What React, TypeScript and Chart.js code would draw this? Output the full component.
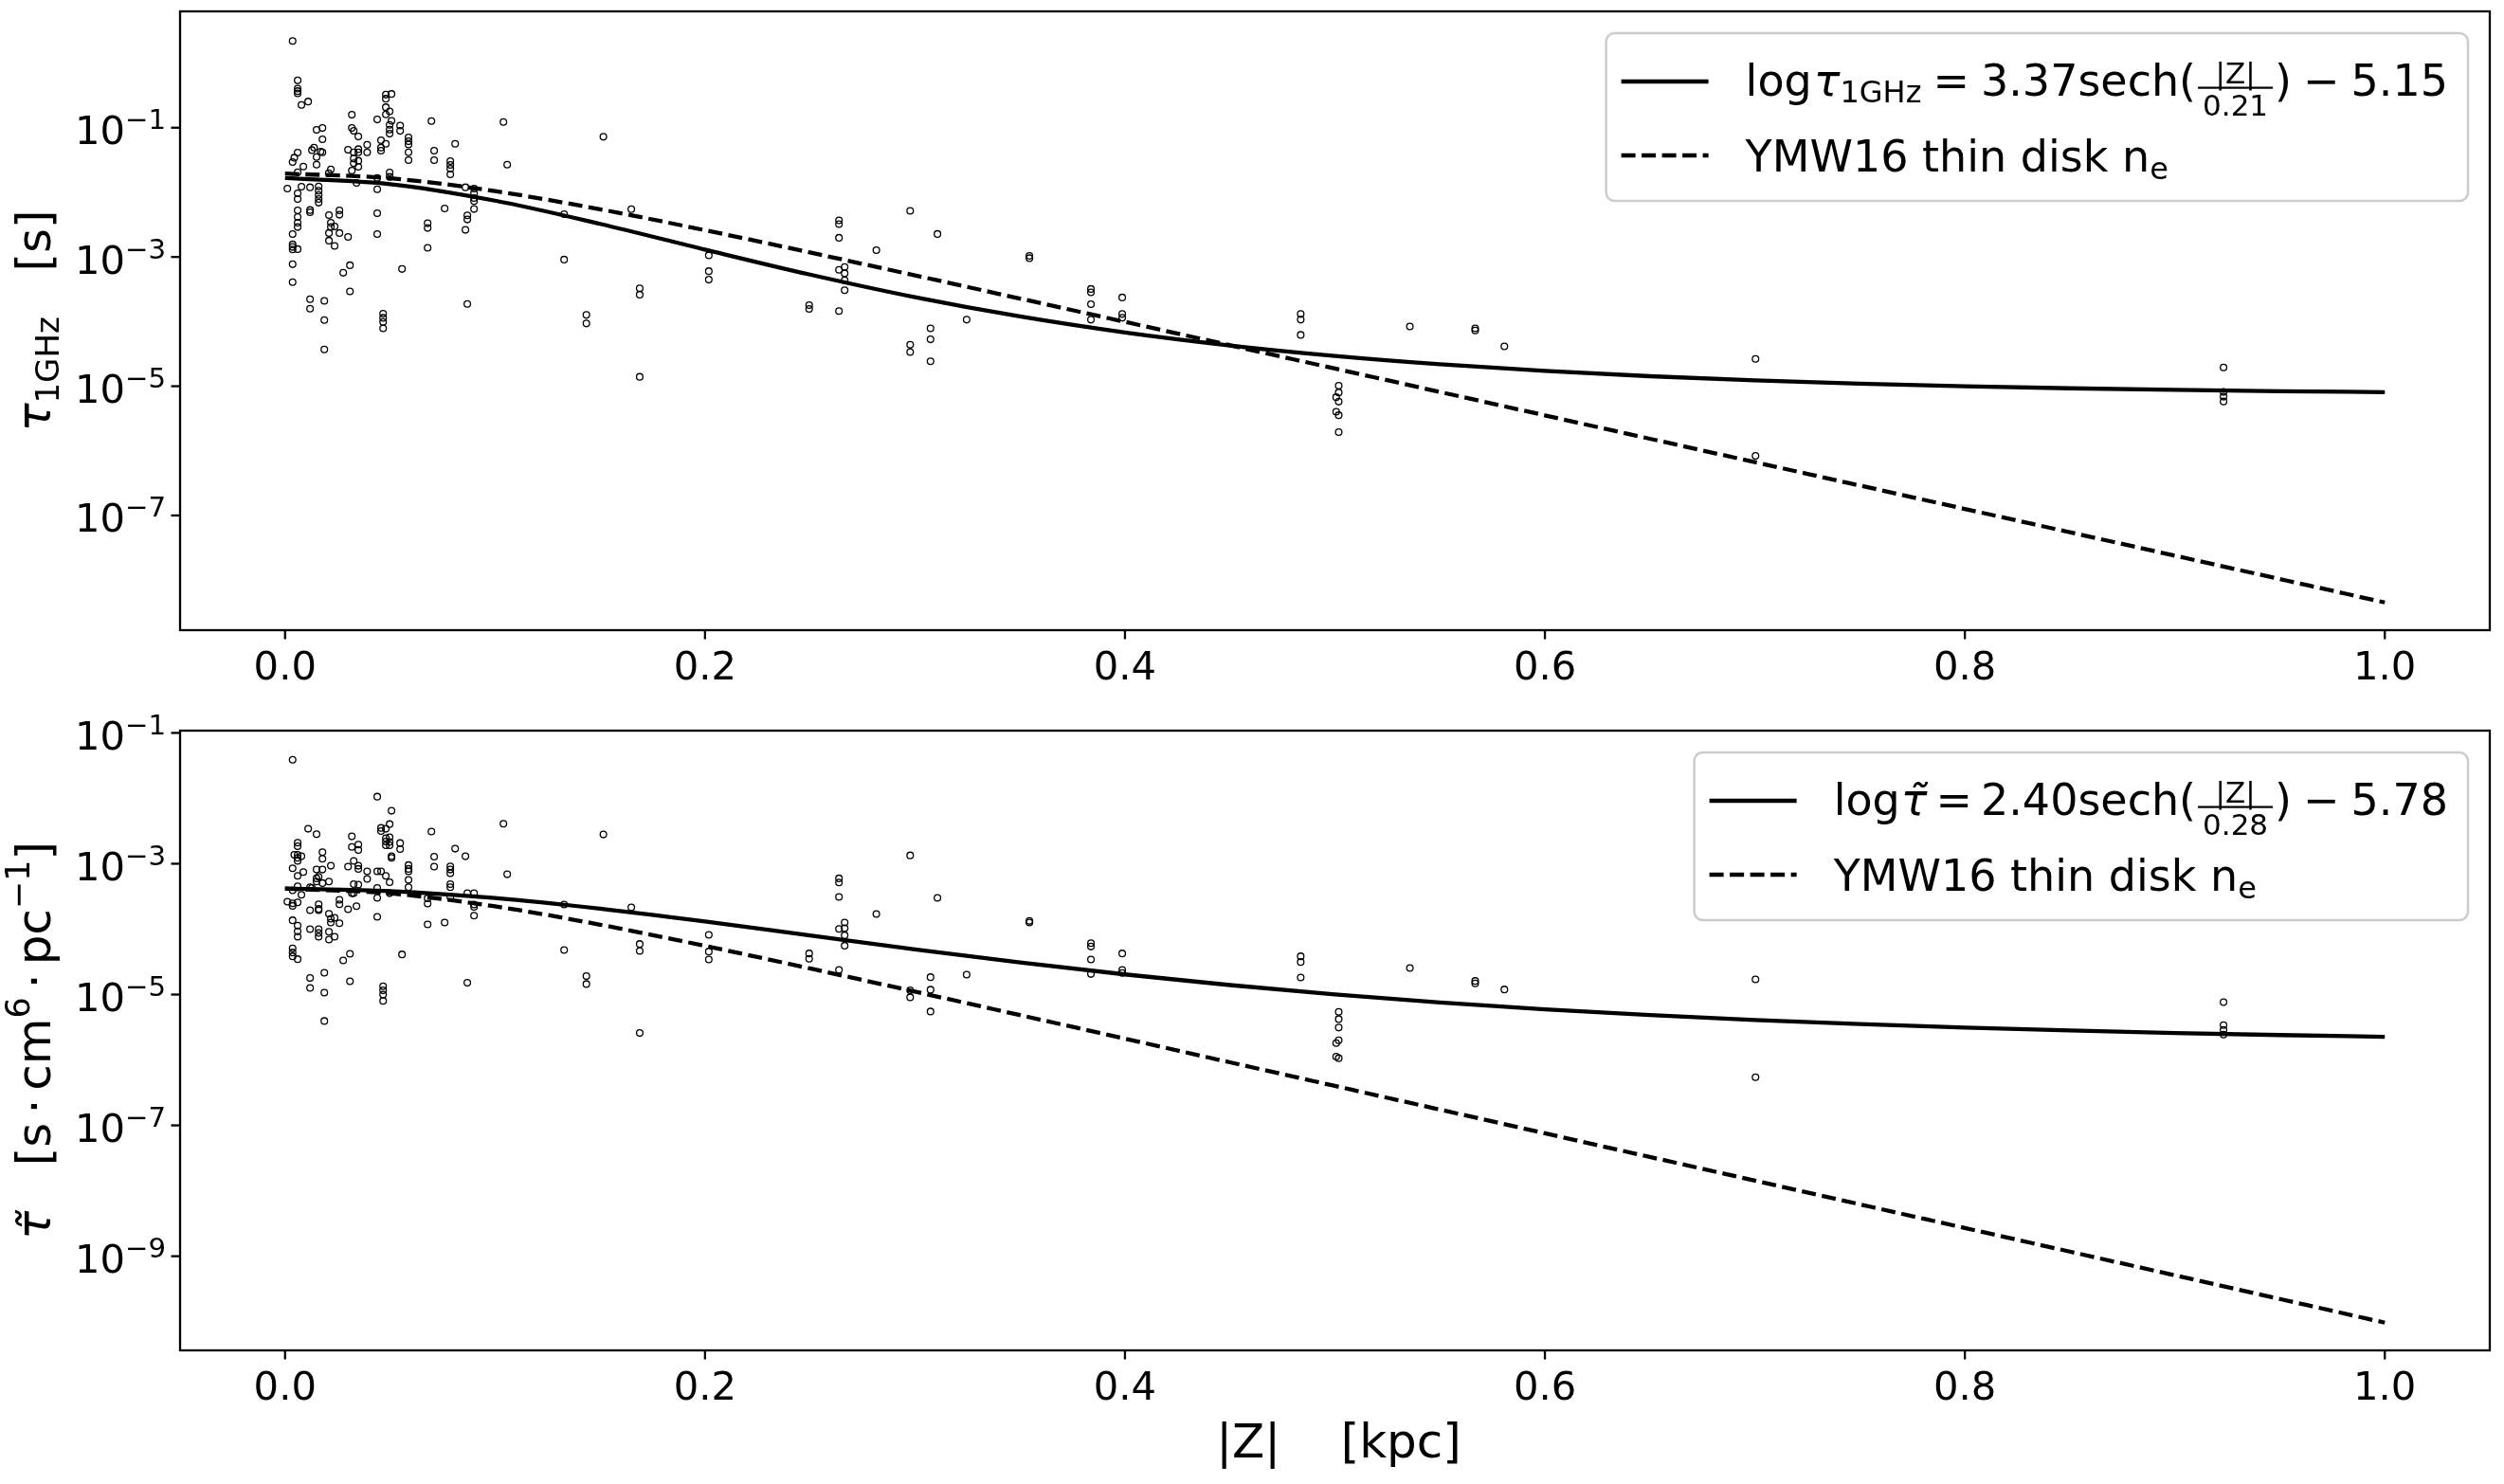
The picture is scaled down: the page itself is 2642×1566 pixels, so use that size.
import React, { useEffect, useRef } from "react";
import { Chart, registerables } from "chart.js";

Chart.register(...registerables);

const FONT = '"DejaVu Sans", "Noto Sans", sans-serif';

// ---------------- data ----------------
// |Z| [kpc] of the pulsars, upper panel, and log10 of tau_1GHz [s]
const zTop = [
  0.0036, 0.006, 0.006, 0.006, 0.006, 0.0078, 0.011, 0.015, 0.0178, 0.0178,
  0.006, 0.0044, 0.0036, 0.0087, 0.006, 0.0128, 0.0138, 0.015, 0.015, 0.0169,
  0.0178, 0.0218, 0.0208, 0.0011, 0.0078, 0.0119, 0.006, 0.006, 0.016, 0.016,
  0.016, 0.016, 0.016, 0.0119, 0.0119, 0.006, 0.006, 0.006, 0.006, 0.0036,
  0.0036, 0.0036, 0.0036, 0.006, 0.0036, 0.0036, 0.0119, 0.0119, 0.0187, 0.0187,
  0.0187, 0.0209, 0.0218, 0.0218, 0.0236, 0.0209, 0.0209, 0.0236, 0.0259, 0.0259,
  0.0259, 0.03, 0.0277, 0.0309, 0.0309, 0.0318, 0.0318, 0.0327, 0.0349, 0.03,
  0.0327, 0.0349, 0.0349, 0.0327, 0.0327, 0.0349, 0.0349, 0.0318, 0.034, 0.0391,
  0.0391, 0.0439, 0.048, 0.048, 0.0507, 0.048, 0.0498, 0.048, 0.0507, 0.0498,
  0.0498, 0.0498, 0.0548, 0.0548, 0.0457, 0.048, 0.0457, 0.0457, 0.0498, 0.0498,
  0.0439, 0.0439, 0.0439, 0.0439, 0.0467, 0.0467, 0.0467, 0.0467, 0.0557, 0.0588,
  0.0588, 0.0588, 0.0588, 0.0588, 0.0697, 0.071, 0.071, 0.0679, 0.0679, 0.0679,
  0.076, 0.0787, 0.0787, 0.0787, 0.0787, 0.081, 0.0859, 0.09, 0.09, 0.09,
  0.09, 0.09, 0.0868, 0.0868, 0.0859, 0.0868, 0.104, 0.1058, 0.1329, 0.1329,
  0.1516, 0.1649, 0.1435, 0.1435, 0.1689, 0.1689, 0.1689, 0.2018, 0.2018, 0.2018,
  0.2496, 0.2496, 0.2638, 0.2638, 0.2638, 0.2638, 0.2665, 0.2665, 0.2665, 0.2665,
  0.2638, 0.2816, 0.2977, 0.3107, 0.3074, 0.3074, 0.3074, 0.2977, 0.2977, 0.3246,
  0.3545, 0.3545, 0.3838, 0.3838, 0.3838, 0.3838, 0.3987, 0.3987, 0.3987, 0.4837,
  0.4837, 0.4837, 0.5018, 0.5018, 0.5018, 0.5018, 0.5018, 0.5006, 0.5006, 0.5357,
  0.5668, 0.5668, 0.5807, 0.7003, 0.7003, 0.9232, 0.9232, 0.9232, 0.9232,
];
const logTauTop = [
  0.342, -0.268, -0.395, -0.434, -0.468, -0.649, -0.595, -1.034, -1.005, -1.18,
  -1.386, -1.464, -1.532, -1.6, -1.688, -1.347, -1.307, -1.454, -1.571, -1.371,
  -1.381, -1.644, -1.703, -1.942, -1.913, -1.922, -2.015, -2.103, -1.908, -1.976,
  -2.04, -2.103, -2.16, -2.274, -2.308, -2.279, -2.381, -2.469, -2.537, -2.645,
  -2.806, -2.845, -2.884, -2.879, -3.113, -3.391, -3.655, -3.801, -3.679, -3.977,
  -4.431, -2.352, -2.469, -2.537, -2.528, -2.63, -2.747, -2.83, -2.279, -2.347,
  -2.63, -2.689, -3.245, -3.128, -3.533, -0.8, -1.005, -1.049, -1.137, -1.342,
  -1.381, -1.332, -1.381, -1.478, -1.551, -1.512, -1.605, -1.664, -1.854, -1.264,
  -1.381, -0.873, -0.488, -0.551, -0.478, -0.683, -0.746, -0.795, -0.893, -0.956,
  -1.029, -1.093, -0.966, -1.049, -1.195, -1.249, -1.307, -1.356, -1.693, -1.761,
  -1.776, -1.952, -2.323, -2.645, -3.879, -3.942, -4.006, -4.104, -3.186, -1.151,
  -1.21, -1.259, -1.381, -1.503, -0.898, -1.356, -1.503, -2.479, -2.552, -2.859,
  -2.249, -1.517, -1.576, -1.634, -1.722, -1.249, -1.922, -1.942, -2.015, -2.088,
  -2.137, -2.259, -2.357, -2.42, -2.581, -3.728, -0.912, -1.571, -2.337, -3.04,
  -1.141, -2.261, -3.897, -4.029, -3.485, -3.583, -4.855, -2.974, -3.22, -3.351,
  -3.745, -3.804, -2.433, -2.492, -2.703, -3.199, -3.155, -3.253, -3.362, -3.514,
  -3.838, -2.895, -2.286, -2.644, -4.104, -4.275, -4.615, -4.359, -4.472, -3.971,
  -2.984, -3.018, -3.495, -3.548, -3.731, -3.971, -3.627, -3.883, -3.941, -3.883,
  -3.971, -4.206, -4.993, -5.097, -5.239, -5.449, -5.71, -5.17, -5.395, -4.075,
  -4.104, -4.138, -4.384, -4.577, -6.076, -4.709, -5.089, -5.162, -5.236,
];

// lower panel: |Z| [kpc] and log10 of tau-tilde [s cm^6 pc^-1]
const zBottom = [
  0.0036, 0.011, 0.015, 0.006, 0.006, 0.0044, 0.006, 0.0078, 0.006, 0.006,
  0.0036, 0.006, 0.0087, 0.015, 0.0178, 0.0178, 0.0178, 0.0218, 0.015, 0.016,
  0.015, 0.0178, 0.0209, 0.0119, 0.0128, 0.006, 0.0036, 0.0078, 0.0011, 0.0036,
  0.0036, 0.006, 0.0119, 0.016, 0.016, 0.016, 0.0209, 0.0218, 0.0218, 0.0236,
  0.0259, 0.0036, 0.006, 0.006, 0.006, 0.0119, 0.016, 0.016, 0.016, 0.0209,
  0.0209, 0.0236, 0.0036, 0.0036, 0.0036, 0.006, 0.0119, 0.0119, 0.0187, 0.0187,
  0.0187, 0.0277, 0.0309, 0.0309, 0.0259, 0.0259, 0.03, 0.034, 0.0318, 0.0318,
  0.0349, 0.0349, 0.0327, 0.03, 0.0349, 0.0349, 0.0391, 0.0391, 0.0327, 0.0349,
  0.0318, 0.0327, 0.0439, 0.0507, 0.0457, 0.0457, 0.048, 0.0498, 0.048, 0.048,
  0.048, 0.0498, 0.0498, 0.0498, 0.0548, 0.0548, 0.0507, 0.0507, 0.0439, 0.0457,
  0.048, 0.0498, 0.0439, 0.0439, 0.0439, 0.0498, 0.0467, 0.0467, 0.0467, 0.0467,
  0.0557, 0.0588, 0.0588, 0.0588, 0.0588, 0.0588, 0.0697, 0.071, 0.071, 0.0679,
  0.0679, 0.0679, 0.076, 0.0787, 0.0787, 0.0787, 0.0787, 0.0787, 0.0787, 0.081,
  0.0859, 0.0868, 0.09, 0.09, 0.09, 0.09, 0.0868, 0.104, 0.1058, 0.1329,
  0.1329, 0.1516, 0.1649, 0.1435, 0.1435, 0.1689, 0.1689, 0.1689, 0.2018, 0.2018,
  0.2018, 0.2496, 0.2496, 0.2638, 0.2638, 0.2638, 0.2638, 0.2665, 0.2665, 0.2665,
  0.2665, 0.2638, 0.2816, 0.2977, 0.3107, 0.3074, 0.3074, 0.3074, 0.2977, 0.2977,
  0.3246, 0.3545, 0.3545, 0.3838, 0.3838, 0.3838, 0.3838, 0.3987, 0.3987, 0.3987,
  0.4837, 0.4837, 0.4837, 0.5018, 0.5018, 0.5018, 0.5018, 0.5018, 0.5006, 0.5006,
  0.5357, 0.5668, 0.5668, 0.5807, 0.7003, 0.7003, 0.9232, 0.9232, 0.9232, 0.9232,
];
const logTauBottom = [
  -1.41, -2.466, -2.548, -2.679, -2.732, -2.864, -2.864, -2.886, -2.91, -2.958,
  -3.069, -3.185, -3.127, -3.089, -2.822, -2.924, -3.089, -3.031, -3.224, -3.2,
  -3.272, -3.296, -3.272, -3.359, -3.369, -3.345, -3.407, -3.475, -3.581, -3.605,
  -3.644, -3.59, -3.711, -3.619, -3.691, -3.711, -3.764, -3.841, -3.899, -3.827,
  -3.909, -3.865, -3.947, -4.034, -4.116, -4.0, -4.0, -4.058, -4.116, -4.039,
  -4.16, -4.116, -4.295, -4.357, -4.415, -4.459, -4.748, -4.898, -4.666, -4.97,
  -5.404, -4.478, -4.377, -4.797, -3.552, -3.619, -3.697, -3.648, -2.582, -2.743,
  -2.707, -2.789, -2.958, -3.045, -3.031, -3.079, -3.117, -3.233, -3.311, -3.321,
  -3.451, -3.451, -1.974, -2.191, -2.452, -2.5, -2.466, -2.394, -2.611, -2.659,
  -2.717, -2.596, -2.668, -2.717, -2.684, -2.775, -2.886, -2.91, -3.117, -3.117,
  -3.185, -3.282, -3.369, -3.523, -3.812, -3.451, -4.874, -4.936, -4.999, -5.096,
  -4.386, -3.021, -3.079, -3.117, -3.248, -3.359, -2.509, -2.891, -3.045, -3.528,
  -3.61, -3.928, -3.899, -3.04, -3.089, -3.146, -3.311, -3.359, -3.513, -2.77,
  -2.886, -3.451, -3.451, -3.624, -3.658, -3.793, -4.82, -2.389, -3.161, -3.624,
  -4.318, -2.553, -3.667, -4.719, -4.839, -4.227, -4.333, -5.588, -4.087, -4.343,
  -4.464, -4.372, -4.454, -3.224, -3.287, -3.508, -3.996, -3.899, -3.986, -4.093,
  -4.252, -4.623, -3.769, -2.872, -3.523, -4.734, -4.926, -5.259, -4.936, -5.042,
  -4.695, -3.875, -3.899, -4.213, -4.266, -4.464, -4.686, -4.372, -4.623, -4.671,
  -4.415, -4.502, -4.738, -5.264, -5.375, -5.505, -5.699, -5.973, -5.742, -5.949,
  -4.594, -4.792, -4.83, -4.922, -4.767, -6.263, -5.115, -5.467, -5.54, -5.612,
];

// curves, every 0.05 kpc (log10 values)
const zCurve = [
  0, 0.05, 0.1, 0.15, 0.2, 0.25, 0.3, 0.35, 0.4, 0.45, 0.5,
  0.55, 0.6, 0.65, 0.7, 0.75, 0.8, 0.85, 0.9, 0.95, 1.0,
];
const logFitTop = [
  -1.78, -1.873, -2.129, -2.488, -2.886, -3.273, -3.623, -3.921, -4.169, -4.37, -4.532,
  -4.661, -4.764, -4.845, -4.91, -4.961, -5.001, -5.032, -5.057, -5.077, -5.092,
];
const logYmwTop = [
  -1.71, -1.783, -1.982, -2.262, -2.586, -2.931, -3.285, -3.644, -4.004, -4.366, -4.727,
  -5.089, -5.451, -5.813, -6.175, -6.537, -6.899, -7.26, -7.622, -7.984, -8.346,
];
const logFitBottom = [
  -3.38, -3.418, -3.525, -3.688, -3.884, -4.097, -4.309, -4.509, -4.692, -4.855, -4.997,
  -5.12, -5.225, -5.313, -5.389, -5.452, -5.505, -5.55, -5.587, -5.619, -5.645,
];
const logYmwBottom = [
  -3.38, -3.453, -3.652, -3.932, -4.256, -4.601, -4.955, -5.314, -5.674, -6.036, -6.397,
  -6.759, -7.121, -7.483, -7.845, -8.207, -8.569, -8.93, -9.292, -9.654, -10.016,
];

const xTickValues = [0, 0.2, 0.4, 0.6, 0.8, 1.0];
const xTickLabels = ["0.0", "0.2", "0.4", "0.6", "0.8", "1.0"];
const yTickExpTop = [-1, -3, -5, -7];
const yTickExpBottom = [-1, -3, -5, -7, -9];
const xLimits = [-0.05, 1.05];
const yLogLimitsTop = [-8.775, 0.8];
const yLogLimitsBottom = [-10.44, -0.965];

// ---------------- text helpers ----------------
type Run = {
  t?: string;
  size: number;
  italic?: boolean;
  dy?: number;
  gap?: number;
  frac?: [string, string];
  tilde?: boolean;
};

const fnt = (size: number, italic?: boolean) =>
  `${italic ? "italic " : ""}${size}px ${FONT}`;

function runWidth(ctx: CanvasRenderingContext2D, r: Run) {
  if (r.frac) {
    ctx.font = fnt(r.size);
    const a = ctx.measureText(r.frac[0]).width;
    const b = ctx.measureText(r.frac[1]).width;
    return Math.max(a, b) + 14;
  }
  ctx.font = fnt(r.size, r.italic);
  return ctx.measureText(r.t || "").width;
}

function measureRuns(ctx: CanvasRenderingContext2D, runs: Run[]) {
  return runs.reduce((s, r) => s + (r.gap || 0) + runWidth(ctx, r), 0);
}

function drawRuns(ctx: CanvasRenderingContext2D, runs: Run[], x: number, y: number) {
  let cx = x;
  ctx.textAlign = "left";
  ctx.textBaseline = "alphabetic";
  for (const r of runs) {
    cx += r.gap || 0;
    const w = runWidth(ctx, r);
    if (r.frac) {
      ctx.font = fnt(r.size);
      const barY = y - 8;
      ctx.fillRect(cx + 2, barY - 1, w - 4, 2.2);
      ctx.textAlign = "center";
      ctx.fillText(r.frac[0], cx + w / 2, barY - 5);
      ctx.fillText(r.frac[1], cx + w / 2, barY + 29);
      ctx.textAlign = "left";
    } else {
      ctx.font = fnt(r.size, r.italic);
      ctx.fillText(r.t || "", cx, y + (r.dy || 0));
      if (r.tilde) {
        ctx.textAlign = "center";
        ctx.fillText("\u02DC", cx + w / 2 + r.size * 0.06, y + r.size * 0.04);
        ctx.textAlign = "left";
      }
    }
    cx += w;
  }
  return cx - x;
}

type Decor = {
  yTickExps: number[];
  yLabel: Run[];
  legendRows: Run[][];
  xLabel?: string;
};

function makeDecor(d: Decor) {
  return {
    id: "mplDecor",
    afterDraw(chart: any) {
      const ctx: CanvasRenderingContext2D = chart.ctx;
      const a = chart.chartArea;
      const xs = chart.scales.x;
      const ys = chart.scales.y;
      ctx.save();
      ctx.fillStyle = "#000";
      ctx.strokeStyle = "#000";

      // frame
      ctx.lineWidth = 2.3;
      ctx.lineJoin = "miter";
      ctx.strokeRect(a.left, a.top, a.right - a.left, a.bottom - a.top);

      // x ticks
      ctx.lineWidth = 2.3;
      xTickValues.forEach((v, i) => {
        const px = xs.getPixelForValue(v);
        ctx.beginPath();
        ctx.moveTo(px, a.bottom);
        ctx.lineTo(px, a.bottom + 9.5);
        ctx.stroke();
        ctx.font = fnt(41.7);
        ctx.textAlign = "center";
        ctx.textBaseline = "alphabetic";
        ctx.fillText(xTickLabels[i], px, a.bottom + 52);
      });

      // y ticks
      d.yTickExps.forEach((e) => {
        const py = ys.getPixelForValue(Math.pow(10, e));
        ctx.beginPath();
        ctx.moveTo(a.left - 9.5, py);
        ctx.lineTo(a.left, py);
        ctx.stroke();
        const base: Run = { t: "10", size: 41.7 };
        const sup: Run = { t: "\u2212" + Math.abs(e), size: 29.2, dy: -16 };
        const w = measureRuns(ctx, [base, sup]);
        drawRuns(ctx, [base, sup], a.left - 15 - w, py + 17.4);
      });

      // y label (rotated)
      ctx.save();
      ctx.translate(53, (a.top + a.bottom) / 2);
      ctx.rotate(-Math.PI / 2);
      const wl = measureRuns(ctx, d.yLabel);
      drawRuns(ctx, d.yLabel, -wl / 2, 0);
      ctx.restore();

      // x label
      if (d.xLabel) {
        ctx.font = fnt(50);
        ctx.textAlign = "center";
        ctx.textBaseline = "alphabetic";
        ctx.fillText(d.xLabel, (a.left + a.right) / 2 + 4, a.bottom + 113);
      }

      // legend
      const textW = Math.max(...d.legendRows.map((r) => measureRuns(ctx, r)));
      const right = a.right - 23;
      const top = a.top + 23;
      const width = 147 + textW + 21;
      const height = 177;
      const left = right - width;
      ctx.beginPath();
      (ctx as any).roundRect(left, top, width, height, 9);
      ctx.fillStyle = "rgba(255,255,255,0.8)";
      ctx.fill();
      ctx.strokeStyle = "#cccccc";
      ctx.lineWidth = 2.5;
      ctx.stroke();

      ctx.fillStyle = "#000";
      ctx.strokeStyle = "#000";
      ctx.lineWidth = 4.3;
      ctx.lineCap = "butt";
      const rowY = [top + 51, top + 129];
      rowY.forEach((ly, i) => {
        ctx.setLineDash(i === 0 ? [] : [15, 6.5]);
        ctx.beginPath();
        ctx.moveTo(left + 16, ly);
        ctx.lineTo(left + 108, ly);
        ctx.stroke();
        ctx.setLineDash([]);
        drawRuns(ctx, d.legendRows[i], left + 147, ly + (i === 0 ? 14.5 : 17));
      });

      ctx.restore();
    },
  };
}

// ---------------- chart component ----------------
type PanelProps = {
  width: number;
  height: number;
  pad: { left: number; right: number; top: number; bottom: number };
  zs: number[];
  logs: number[];
  fit: number[];
  ymw: number[];
  yLog: number[];
  decor: Decor;
};

function Panel(p: PanelProps) {
  const ref = useRef<HTMLCanvasElement>(null);
  useEffect(() => {
    if (!ref.current) return;
    const pts = p.zs.map((z, i) => ({ x: z, y: Math.pow(10, p.logs[i]) }));
    const fitPts = zCurve.map((z, i) => ({ x: z, y: Math.pow(10, p.fit[i]) }));
    const ymwPts = zCurve.map((z, i) => ({ x: z, y: Math.pow(10, p.ymw[i]) }));
    const chart = new Chart(ref.current, {
      type: "scatter",
      data: {
        datasets: [
          {
            data: fitPts,
            showLine: true,
            borderColor: "#000",
            borderWidth: 4.3,
            pointRadius: 0,
            cubicInterpolationMode: "monotone",
            fill: false,
          } as any,
          {
            data: ymwPts,
            showLine: true,
            borderColor: "#000",
            borderWidth: 4.3,
            borderDash: [15, 6.5],
            pointRadius: 0,
            cubicInterpolationMode: "monotone",
            fill: false,
          } as any,
          {
            data: pts,
            pointStyle: "circle",
            pointRadius: 3.4,
            borderWidth: 1.3,
            borderColor: "#000",
            backgroundColor: "rgba(0,0,0,0)",
          } as any,
        ],
      },
      options: {
        animation: false,
        responsive: false,
        devicePixelRatio: 1,
        layout: { padding: p.pad },
        plugins: {
          legend: { display: false },
          tooltip: { enabled: false },
        },
        events: [],
        scales: {
          x: {
            type: "linear",
            display: false,
            min: xLimits[0],
            max: xLimits[1],
            bounds: "data",
          },
          y: {
            type: "logarithmic",
            display: false,
            min: Math.pow(10, p.yLog[0]),
            max: Math.pow(10, p.yLog[1]),
            bounds: "data",
          },
        },
      } as any,
      plugins: [makeDecor(p.decor)],
    });
    return () => chart.destroy();
  }, []);
  return (
    <canvas
      ref={ref}
      width={p.width}
      height={p.height}
      style={{ display: "block", width: p.width, height: p.height }}
    />
  );
}

const topDecor: Decor = {
  yTickExps: yTickExpTop,
  yLabel: [
    { t: "\u03C4", size: 50, italic: true },
    { t: "1GHz", size: 34, dy: 9 },
    { t: "   [s]", size: 50 },
  ],
  legendRows: [
    [
      { t: "log", size: 46 },
      { t: "\u03C4", size: 46, italic: true, gap: 2 },
      { t: "1GHz", size: 32, dy: 7 },
      { t: "=", size: 46, gap: 12 },
      { t: "3.37sech(", size: 46, gap: 12 },
      { frac: ["|Z|", "0.21"], size: 31 },
      { t: ")", size: 46 },
      { t: "\u2212", size: 46, gap: 12 },
      { t: "5.15", size: 46, gap: 12 },
    ],
    [
      { t: "YMW16 thin disk n", size: 46 },
      { t: "e", size: 32, dy: 8 },
    ],
  ],
};

const bottomDecor: Decor = {
  yTickExps: yTickExpBottom,
  yLabel: [
    { t: "\u03C4", size: 50, italic: true, tilde: true },
    { t: "   [s", size: 50 },
    { t: "\u00B7", size: 50, gap: 9 },
    { t: "cm", size: 50, gap: 9 },
    { t: "6", size: 35, dy: -22 },
    { t: "\u00B7", size: 50, gap: 9 },
    { t: "pc", size: 50, gap: 9 },
    { t: "\u22121", size: 35, dy: -22 },
    { t: "]", size: 50 },
  ],
  legendRows: [
    [
      { t: "log", size: 46 },
      { t: "\u03C4", size: 46, italic: true, gap: 1, tilde: true },
      { t: "=", size: 46, gap: 9 },
      { t: "2.40sech(", size: 46, gap: 9 },
      { frac: ["|Z|", "0.28"], size: 31 },
      { t: ")", size: 46 },
      { t: "\u2212", size: 46, gap: 12 },
      { t: "5.78", size: 46, gap: 12 },
    ],
    [
      { t: "YMW16 thin disk n", size: 46 },
      { t: "e", size: 32, dy: 8 },
    ],
  ],
  xLabel: "|Z|    [kpc]",
};

export default function App() {
  return (
    <div
      style={{
        position: "absolute",
        left: 0,
        top: 0,
        width: 2642,
        height: 1566,
        background: "#fff",
        overflow: "hidden",
      }}
    >
      <Panel
        width={2642}
        height={740}
        pad={{ left: 190, right: 15, top: 12, bottom: 75 }}
        zs={zTop}
        logs={logTauTop}
        fit={logFitTop}
        ymw={logYmwTop}
        yLog={yLogLimitsTop}
        decor={topDecor}
      />
      <Panel
        width={2642}
        height={826}
        pad={{ left: 190, right: 15, top: 31, bottom: 141 }}
        zs={zBottom}
        logs={logTauBottom}
        fit={logFitBottom}
        ymw={logYmwBottom}
        yLog={yLogLimitsBottom}
        decor={bottomDecor}
      />
    </div>
  );
}
